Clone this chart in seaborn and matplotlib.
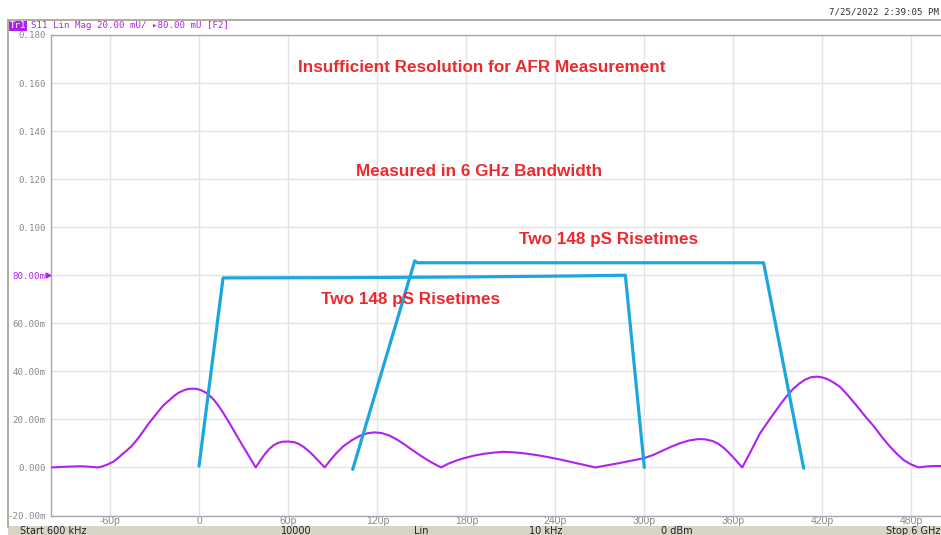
import matplotlib
matplotlib.use("Agg")
import matplotlib.pyplot as plt
from matplotlib.lines import Line2D
from matplotlib.patches import Rectangle
import seaborn as sns
import pandas as pd

# ---------------- data ----------------
# purple trace (time in ps, magnitude in U)
purple_t = [-100, -90, -80, -74, -69,
            -66, -62, -58, -55, -52, -49, -46, -43, -40, -37, -34, -30, -27, -24, -20, -17,
            -14, -11, -8, -5, -2, 1, 4, 7, 10, 13, 16, 20, 23, 26, 29, 32, 35, 38,
            41, 44, 47, 50, 53, 56, 60, 64, 67, 70, 73, 76, 79, 82, 84.5,
            88, 92, 97, 103, 108, 113, 118, 123, 128, 133, 138, 143, 148, 153, 158, 163,
            168, 173, 178, 185, 192, 199, 205, 212, 220, 228, 236, 244, 252, 260, 267,
            275, 283, 291, 300, 306, 312, 318, 324, 330, 336, 341, 346, 350, 354, 358, 362, 366,
            369, 372, 375, 378, 382, 387, 392, 396, 400, 404, 408, 412, 416, 420, 424, 428,
            432, 437, 443, 449, 455, 460, 465, 470, 475, 480, 485, 490, 495, 500]
purple_v = [0.0000, 0.0003, 0.0005, 0.0003, 0.0000,
            0.0003, 0.0012, 0.0024, 0.0038, 0.0055, 0.0070, 0.0087, 0.0108, 0.0132, 0.0158,
            0.0184, 0.0215, 0.0238, 0.0260, 0.0281, 0.0298, 0.0311, 0.0320, 0.0326, 0.0328,
            0.0327, 0.0322, 0.0313, 0.0299, 0.0280, 0.0256, 0.0228, 0.0188, 0.0156, 0.0124,
            0.0093, 0.0062, 0.0031, 0.0000,
            0.0028, 0.0054, 0.0076, 0.0092, 0.0102, 0.0107, 0.0108, 0.0105, 0.0098, 0.0087,
            0.0072, 0.0055, 0.0036, 0.0016, 0.0000,
            0.0028, 0.0057, 0.0088, 0.0114, 0.0131, 0.0142, 0.0146, 0.0143, 0.0133, 0.0117,
            0.0097, 0.0075, 0.0054, 0.0034, 0.0016, 0.0000,
            0.0016, 0.0028, 0.0038, 0.0049, 0.0057, 0.0062, 0.0065, 0.0063, 0.0058, 0.0051,
            0.0042, 0.0032, 0.0021, 0.0010, 0.0000,
            0.0009, 0.0018, 0.0028, 0.0039, 0.0052, 0.0069, 0.0086, 0.0101, 0.0112, 0.0118,
            0.0117, 0.0110, 0.0098, 0.0079, 0.0055, 0.0028, 0.0000,
            0.0035, 0.0070, 0.0106, 0.0142, 0.0178, 0.0222, 0.0265, 0.0297, 0.0325, 0.0347,
            0.0364, 0.0375, 0.0378, 0.0375, 0.0366, 0.0352, 0.0335, 0.0302, 0.0258, 0.0212,
            0.0169, 0.0128, 0.0091, 0.0058, 0.0030, 0.0012, 0.0000, 0.0004, 0.0006, 0.0006]

# blue trapezoid 1
trap1_t = [-0.2, 16.0, 100, 180, 250, 287.2, 300]
trap1_v = [0.0006, 0.0789, 0.0790, 0.0793, 0.0797, 0.0800, 0.0000]
# blue trapezoid 2
trap2_t = [103.4, 145.2, 147, 380.4, 407.4]
trap2_v = [-0.0008, 0.0860, 0.0852, 0.0852, -0.0003]

x_ticks = [-60, 0, 60, 120, 180, 240, 300, 360, 420, 480]
x_labels = ["-60p", "0", "60p", "120p", "180p", "240p", "300p", "360p", "420p", "480p"]
y_ticks = [0.18, 0.16, 0.14, 0.12, 0.10, 0.08, 0.06, 0.04, 0.02, 0.0, -0.02]
y_labels = ["0.180", "0.160", "0.140", "0.120", "0.100", "80.00m", "60.00m", "40.00m",
            "20.00m", "0.000", "-20.00m"]

annotations = ["Insufficient Resolution for AFR Measurement", "Measured in 6 GHz Bandwidth",
               "Two 148 pS Risetimes", "Two 148 pS Risetimes"]
annot_pos = [(190.1, 0.1663), (188.8, 0.1230), (275.7, 0.0947), (142.2, 0.0701)]

status_texts = ["Start 600 kHz", "10000", "Lin", "10 kHz", "0 dBm", "Stop 6 GHz"]
status_x = [20, 296, 421, 546, 677, 940]
status_ha = ["left", "center", "center", "center", "center", "right"]

# ---------------- style ----------------
sns.set_style("white")
PURPLE = "#b021f0"
BLUE = "#1ca6e0"
RED = "#ec2a2e"
GRAY = "#8a8a8a"

W, H = 941, 535
fig = plt.figure(figsize=(W / 100, H / 100), dpi=100)
fig.patch.set_facecolor("white")

def fx(px):
    return px / W

def fy(py):
    return 1 - py / H

ax_left, ax_right, ax_top, ax_bot = 51, 941, 35, 515.5
ax = fig.add_axes([fx(ax_left), fy(ax_bot), (ax_right - ax_left) / W, (ax_bot - ax_top) / H])

df_p = pd.DataFrame({"t": purple_t, "v": purple_v})
df_1 = pd.DataFrame({"t": trap1_t, "v": trap1_v})
df_2 = pd.DataFrame({"t": trap2_t, "v": trap2_v})

sns.lineplot(data=df_p, x="t", y="v", ax=ax, color=PURPLE, lw=1.5, sort=False,
             estimator=None, zorder=3)
sns.lineplot(data=df_1, x="t", y="v", ax=ax, color=BLUE, lw=2.3, sort=False,
             estimator=None, zorder=4)
sns.lineplot(data=df_2, x="t", y="v", ax=ax, color=BLUE, lw=2.3, sort=False,
             estimator=None, zorder=4)

ax.set_xlim(-100, 500)
ax.set_ylim(-0.02, 0.18)
ax.set_xlabel("")
ax.set_ylabel("")

ax.set_xticks(x_ticks)
ax.set_xticklabels(x_labels, fontsize=7.5, color=GRAY, family="Liberation Sans")
ax.set_yticks(y_ticks)
ax.set_yticklabels(y_labels, fontsize=6.6, color=GRAY, family="DejaVu Sans Mono")
for lab in ax.get_yticklabels():
    if lab.get_text() == "80.00m":
        lab.set_color(PURPLE)
ax.tick_params(axis="both", length=0)
ax.tick_params(axis="y", pad=4)
ax.tick_params(axis="x", pad=0)

ax.grid(True, color="#e4e4e4", lw=1.0)
ax.set_axisbelow(True)
for side in ["left", "bottom", "top"]:
    ax.spines[side].set_color("#a8a8a8")
    ax.spines[side].set_linewidth(1.0)
ax.spines["right"].set_visible(False)

# reference marker at 80m
ax.plot([-0.003], [0.08], marker=">", color=PURPLE, ms=3.5, transform=ax.get_yaxis_transform(),
        clip_on=False, zorder=6)

for txt, (xx, yy) in zip(annotations, annot_pos):
    ax.text(xx, yy, txt, color=RED, fontsize=12.3, fontweight="bold",
            family="Liberation Sans", ha="center", va="center", zorder=7)

# ---------------- frame & header ----------------
frame_col = "#a39d8f"
fig.add_artist(Line2D([fx(8), fx(941)], [fy(20), fy(20)], color=frame_col, lw=1.2))
fig.add_artist(Line2D([fx(8), fx(8)], [fy(20), fy(527)], color=frame_col, lw=1.2))

fig.add_artist(Rectangle((fx(8), fy(535)), fx(941) - fx(8), fy(526) - fy(535),
                         facecolor="#d8d4c6", edgecolor="none"))
for txt, xx, ha in zip(status_texts, status_x, status_ha):
    fig.text(fx(xx), fy(531), txt, fontsize=7, color="#222222", family="DejaVu Sans",
             ha=ha, va="center")

fig.text(fx(10), fy(26), "Tr1", fontsize=6.6, color="white", family="DejaVu Sans Mono",
         ha="left", va="center",
         bbox=dict(boxstyle="square,pad=0.1", facecolor=PURPLE, edgecolor="none"))
fig.text(fx(31), fy(26), "S11 Lin Mag 20.00 mU/ \u25b880.00 mU [F2]", fontsize=6.6,
         color=PURPLE, family="DejaVu Sans Mono", ha="left", va="center")
fig.text(fx(939), fy(12), "7/25/2022 2:39:05 PM", fontsize=6.6, color="#333333",
         family="DejaVu Sans Mono", ha="right", va="center")

fig.savefig("out.png", dpi=100, facecolor="white")
